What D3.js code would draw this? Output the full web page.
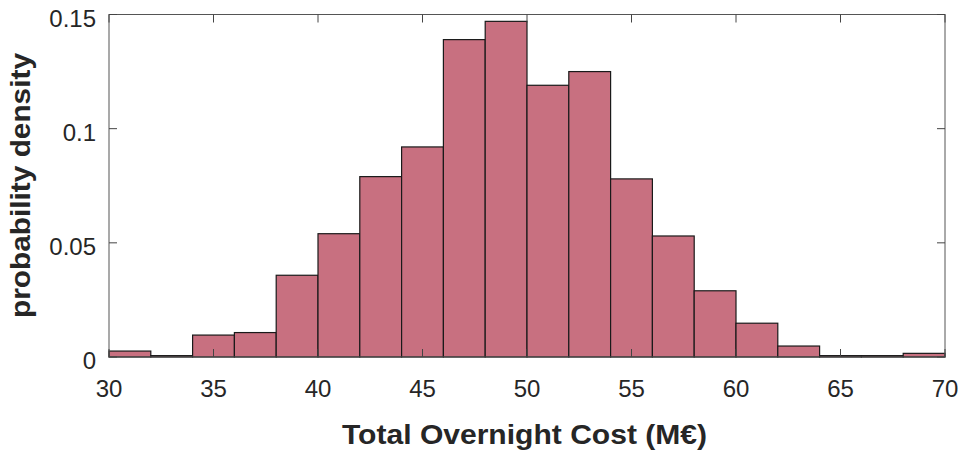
<!DOCTYPE html>
<html><head><meta charset="utf-8">
<script src="https://cdn.jsdelivr.net/npm/d3@7"></script>
<style>body{margin:0;background:#fff}svg{display:block}</style>
</head><body><svg id="c" width="960" height="455"></svg>
<script>
const binEdges = [30,32,34,36,38,40,42,44,46,48,50,52,54,56,58,60,62,64,66,68,70];
const densities = [0.0026,0.0006,0.0096,0.0107,0.0358,0.054,0.079,0.092,0.139,0.147,0.119,0.125,0.078,0.053,0.029,0.0148,0.0048,0.0006,0.0006,0.0016];
const xTicks = [30,35,40,45,50,55,60,65,70];
const yTicks = [0,0.05,0.1,0.15];
const yTickLabels = ["0","0.05","0.1","0.15"];

const svg = d3.select("#c");
const L=109, R=945, T=14.5, B=357;
const x = d3.scaleLinear().domain([30,70]).range([L,R]);
const y = d3.scaleLinear().domain([0,0.15]).range([B,T]);
const font = "'Liberation Sans', Arial, sans-serif";
const axCol = "#262626";

svg.append("g").selectAll("rect").data(densities).join("rect")
  .attr("x",(d,i)=>x(binEdges[i]))
  .attr("width",(d,i)=>x(binEdges[i+1])-x(binEdges[i]))
  .attr("y",d=>y(d))
  .attr("height",d=>y(0)-y(d))
  .attr("fill","#c87080")
  .attr("stroke","#1a1a1a")
  .attr("stroke-width",1.2);

const tl = 8;
const ax = svg.append("g").attr("fill","none").attr("stroke","#444").attr("stroke-width",1);
ax.append("rect").attr("x",L).attr("y",T).attr("width",R-L).attr("height",B-T).attr("stroke","#555");
xTicks.forEach(t=>{
  ax.append("line").attr("x1",x(t)).attr("x2",x(t)).attr("y1",B).attr("y2",B-tl);
  ax.append("line").attr("x1",x(t)).attr("x2",x(t)).attr("y1",T).attr("y2",T+tl);
});
yTicks.forEach(t=>{
  ax.append("line").attr("x1",L).attr("x2",L+tl).attr("y1",y(t)).attr("y2",y(t));
  ax.append("line").attr("x1",R).attr("x2",R-tl).attr("y1",y(t)).attr("y2",y(t));
});

svg.append("g").selectAll("text").data(xTicks).join("text")
  .attr("x",d=>x(d)).attr("y",397)
  .attr("text-anchor","middle").attr("font-family",font).attr("font-size",24).attr("fill",axCol)
  .text(d=>d);
svg.append("g").selectAll("text").data(yTicks).join("text")
  .attr("x",96).attr("y",d=>y(d)+12)
  .attr("text-anchor","end").attr("font-family",font).attr("font-size",24).attr("fill",axCol)
  .text((d,i)=>yTickLabels[i]);

svg.append("text").attr("x",342).attr("y",444)
  .attr("font-family",font).attr("font-size",27).attr("font-weight","bold").attr("fill",axCol)
  .attr("textLength",365).attr("lengthAdjust","spacingAndGlyphs")
  .text("Total Overnight Cost (M€)");
svg.append("text").attr("transform",`translate(30,318) rotate(-90)`)
  .attr("font-family",font).attr("font-size",27).attr("font-weight","bold").attr("fill",axCol)
  .attr("textLength",265).attr("lengthAdjust","spacingAndGlyphs")
  .text("probability density");
</script></body></html>
